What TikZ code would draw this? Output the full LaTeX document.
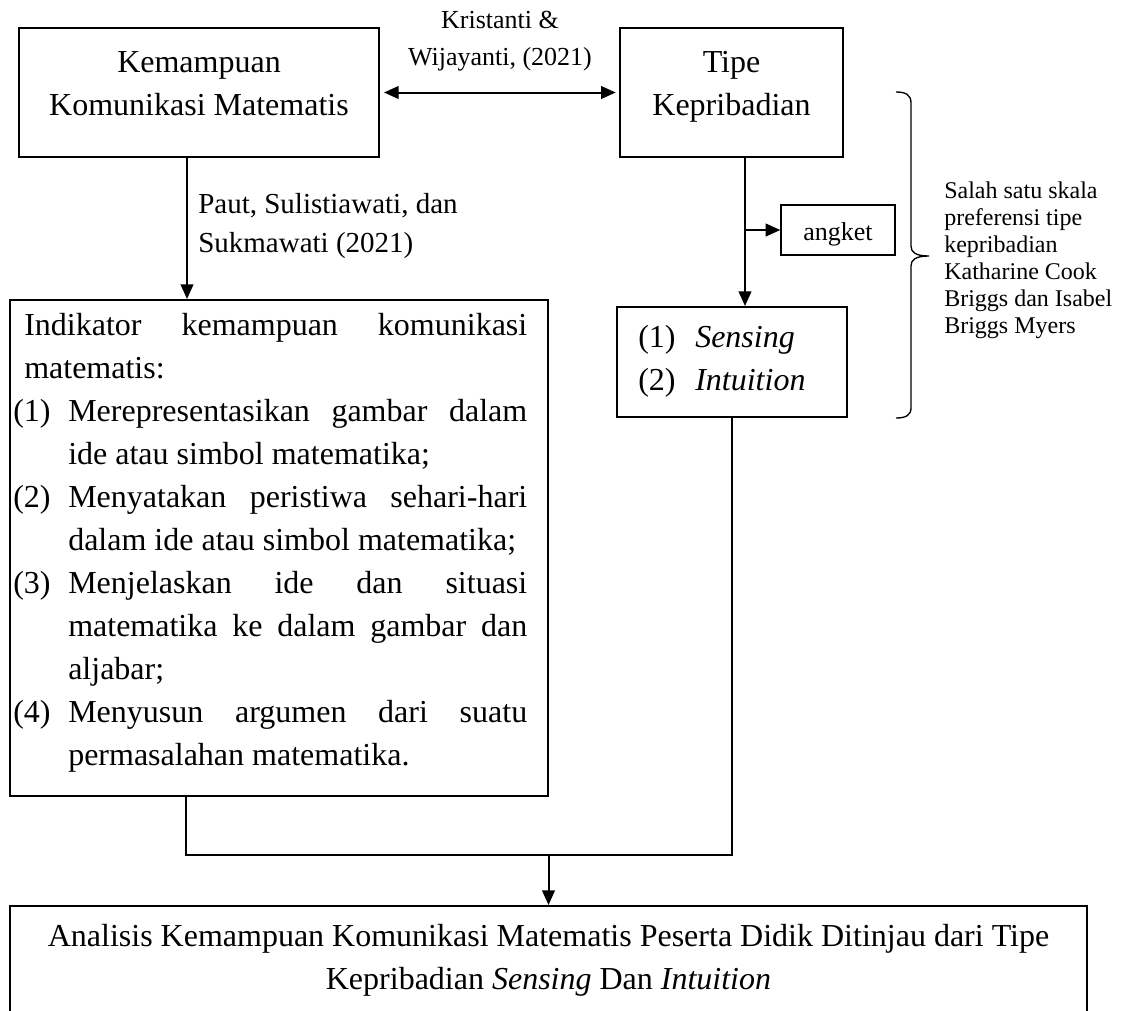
\documentclass[tikz,border=0pt]{standalone}
\usepackage{fontspec}
\setmainfont{Liberation Serif}
\usetikzlibrary{arrows.meta,calc}
\begin{document}
\begin{tikzpicture}[x=0.75pt,y=-0.75pt,
  box/.style={draw, line width=1.5pt, inner sep=0pt},
  thinbox/.style={draw, line width=1pt, inner sep=0pt},
  txt/.style={inner sep=0pt, anchor=base, font=\fontsize{24}{32}\selectfont},
  txtl/.style={txt, anchor=base west},
  small/.style={inner sep=0pt, anchor=base, font=\fontsize{19.5}{24}\selectfont},
  paut/.style={inner sep=0pt, anchor=base west, font=\fontsize{21.75}{26}\selectfont},
  brtxt/.style={inner sep=0pt, anchor=base west, font=\fontsize{18}{22}\selectfont},
  conn/.style={line width=1.5pt},
  tip/.tip={Triangle[length=11pt,width=9.5pt]},
  arr/.style={conn, -tip},
]
\useasboundingbox (0,0) rectangle (1127,1010);
\clip (0,0) rectangle (1127,1010);

% boxes
\node[box, minimum width=270pt, minimum height=96.75pt] (A) at (199,92.5) {};
\node[box, minimum width=167.25pt, minimum height=96.75pt] (B) at (731.5,92.5) {};
\node[box, minimum width=403.5pt, minimum height=372pt] (C) at (279,548) {};
\node[thinbox, minimum width=85.5pt, minimum height=37.5pt] (ang) at (838,230) {};
\node[box, minimum width=172.5pt, minimum height=82.5pt] (D) at (732,362) {};
\node[box, minimum width=807.75pt, minimum height=105pt] (E) at (548.5,976) {};

% texts of A and B
\node[txt] (a1) at (199,72) {Kemampuan};
\node[txt] (a2) at (199,115) {Komunikasi Matematis};
\node[txt] (b1) at (731.5,72) {Tipe};
\node[txt] (b2) at (731.5,115) {Kepribadian};

% label between A and B
\node[small] (k1) at (500,28) {Kristanti \&};
\node[small] (k2) at (500,65) {Wijayanti, (2021)};

% label A -> C
\node[paut] (p1) at (198,213) {Paut, Sulistiawati, dan};
\node[paut] (p2) at (198,252) {Sukmawati (2021)};

% angket
\node[small] (angt) at (838,240) {angket};

% box D text
\node[txtl] (d1n) at (638,347) {(1)};
\node[txtl] (d1) at (695,347) {\textit{Sensing}};
\node[txtl] (d2n) at (638,390) {(2)};
\node[txtl] (d2) at (695,390) {\textit{Intuition}};

% box C text
\node[txtl] (c1) at (24,335) {\makebox[377.25pt][s]{Indikator kemampuan komunikasi}};
\node[txtl] (c2) at (24,378) {matematis:};
\node[txtl] (c3n) at (13,421) {(1)};
\node[txtl] (c3) at (68,421) {\makebox[344.25pt][s]{Merepresentasikan gambar dalam}};
\node[txtl] (c4) at (68,464) {ide atau simbol matematika;};
\node[txtl] (c5n) at (13,507) {(2)};
\node[txtl] (c5) at (68,507) {\makebox[344.25pt][s]{Menyatakan peristiwa sehari-hari}};
\node[txtl] (c6) at (68,550) {dalam ide atau simbol matematika;};
\node[txtl] (c7n) at (13,593) {(3)};
\node[txtl] (c7) at (68,593) {\makebox[344.25pt][s]{Menjelaskan ide dan situasi}};
\node[txtl] (c8) at (68,636) {\makebox[344.25pt][s]{matematika ke dalam gambar dan}};
\node[txtl] (c9) at (68,679) {aljabar;};
\node[txtl] (c10n) at (13,722) {(4)};
\node[txtl] (c10) at (68,722) {\makebox[344.25pt][s]{Menyusun argumen dari suatu}};
\node[txtl] (c11) at (68,765) {permasalahan matematika.};

% bottom box text
\node[txt] (e1) at (548.5,946) {Analisis Kemampuan Komunikasi Matematis Peserta Didik Ditinjau dari Tipe};
\node[txt] (e2) at (548.5,989) {Kepribadian \textit{Sensing} Dan \textit{Intuition}};

% brace text
\node[brtxt] (s1) at (944,198) {Salah satu skala};
\node[brtxt] (s2) at (944,225) {preferensi tipe};
\node[brtxt] (s3) at (944,252) {kepribadian};
\node[brtxt] (s4) at (944,279) {Katharine Cook};
\node[brtxt] (s5) at (944,306) {Briggs dan Isabel};
\node[brtxt] (s6) at (944,333) {Briggs Myers};

% brace
\draw[line width=1pt] (896,92) .. controls (906,92) and (911,95) .. (911,103)
  -- (911,246) .. controls (911,252) and (915,256) .. (929,256)
  .. controls (915,256) and (911,260) .. (911,266)
  -- (911,408) .. controls (911,415) and (906,418) .. (896,418);

% connectors
\draw[conn, tip-tip, shorten <=3pt, shorten >=2.5pt] (A.east) -- (B.west);
\coordinate (a0) at ($(A.south)+(-12,0)$);
\draw[arr] (a0) -- (a0 |- C.north);
\coordinate (b0) at ($(B.south)+(13.5,0)$);
\draw[arr] (b0) -- (b0 |- D.north);
\coordinate (br) at (b0 |- ang.west);
\draw[arr] (br) -- (ang.west);
\coordinate (J) at ($(E.north)+(0,-50)$);
\draw[conn] ($(C.south)+(-93,0)$) |- (J) -| (D.south);
\draw[arr] (J) -- (E.north);
\end{tikzpicture}
\end{document}
